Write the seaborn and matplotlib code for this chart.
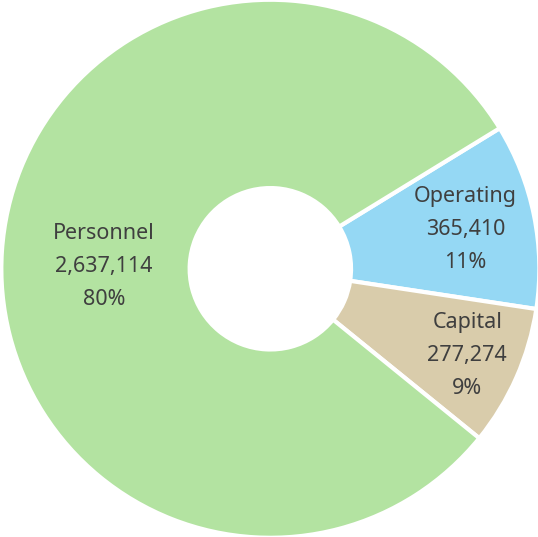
import matplotlib
matplotlib.use("Agg")
import matplotlib.pyplot as plt
import seaborn as sns
import numpy as np

categories = ["Operating", "Capital", "Personnel"]
values = [365410, 277274, 2637114]
percent_labels = ["11%", "9%", "80%"]
colors = ["#95D8F4", "#D9CCAB", "#B3E3A1"]

sns.set_theme(style="white")
plt.rcParams['font.family'] = ['Noto Sans', 'DejaVu Sans']

fig = plt.figure(figsize=(5.38, 5.37), dpi=100)
ax = fig.add_axes([0.0, 0.0, 1.0, 1.0])
wedges, _ = ax.pie(values, colors=colors, startangle=31.5, counterclock=False,
                   radius=1.0,
                   wedgeprops=dict(width=0.70, edgecolor="white", linewidth=3))
ax.set_xlim(-1.005, 0.995)
ax.set_ylim(-0.997, 0.999)
ax.set_aspect("equal")

label_r = {"Operating": 0.74, "Capital": 0.80, "Personnel": 0.62}
for w, cat, v, p in zip(wedges, categories, values, percent_labels):
    mid = np.deg2rad((w.theta1 + w.theta2) / 2)
    r = label_r[cat]
    x, y = r * np.cos(mid), r * np.sin(mid)
    if cat == "Personnel":
        y = 0.01
    ax.text(x, y, f"{cat}\n{v:,}\n{p}", ha="center", va="center",
            fontsize=15.5, color="#3F3F3F", linespacing=1.75)

fig.savefig("out.png", dpi=100)
